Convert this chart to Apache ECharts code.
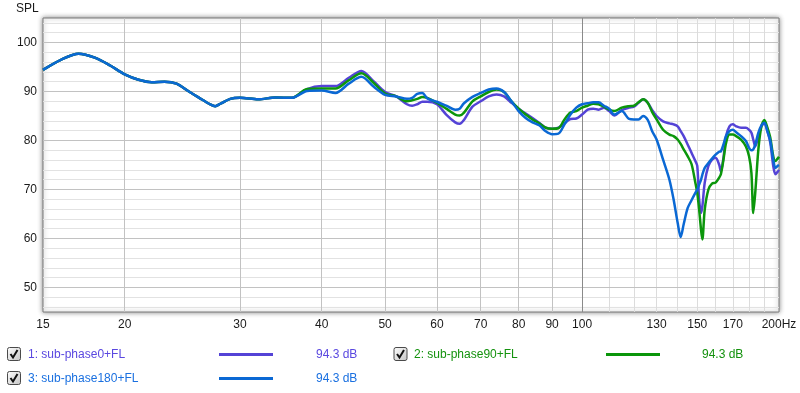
<!DOCTYPE html>
<html><head><meta charset="utf-8">
<script src="https://cdn.jsdelivr.net/npm/echarts@6/dist/echarts.min.js"></script>
<style>html,body{margin:0;padding:0;background:#fff}#c{width:800px;height:393px}</style>
</head><body><div id="c"></div>
<script>
// ---- data ----
const freq = [15,16,17,18,19,20,21,22,23,24,25,26,27,27.5,28,29,30,32,34,36,
  38,40,42,44,46,48,50,52,54,55,56,57,58,60,62,64,65,66,68,70,
  72,74,76,78,80,82,84,86,88,90,92,94,96,98,100,102,104,106,108,110,
  112,115,118,120,122,124,126,128,130,133,136,138,140,141.5,143,145,147,149,150,151,
  152,152.7,154,156,158,160,162,163,164.5,166,168,170,172,175,178,180,181.5,182.7,184,186,
  188,190,192,194,196,197.5,199,200];
const splCommon = [94.4,96.5,97.7,96.9,95.3,93.5,92.4,91.9,92.0,91.6,90.1,88.7,87.4,87.0,87.5,88.5,88.7,88.4,88.8,88.7];
const splPhase0 = splCommon.concat([90.5,91.1,91.1,92.8,94.2,92.1,89.9,89.0,87.4,87.1, 87.4,87.9,87.9,87.4,85.3,83.7,83.4,84.2,86.9,88.0,
  89.0,89.4,89.0,87.7,86.5,85.5,84.6,83.6,82.6,82.4, 82.6,83.5,84.4,84.5,85.3,86.3,86.5,86.3,86.7,86.0,
  85.1,86.2,86.7,86.9,87.7,88.4,87.7,86.2,85.0,83.9, 83.5,83.3,82.9,81.9,80.9,79.2,77.5,75.8,74.8,68.0,
  65.2,66.5,71.4,74.8,76.1,76.5,75.1,73.7,76.5,80.9, 82.9,83.3,82.9,82.6,82.6,82.2,81.6,80.2,78.8,80.9,
  82.9,83.5,81.9,79.5,74.8,73.1,73.6,74.0]);
const splPhase90 = splCommon.concat([90.5,90.6,90.6,92.3,93.7,91.8,89.6,89.0,88.0,88.2, 88.5,88.9,88.7,87.7,86.5,85.3,85.1,85.7,88.0,89.0,
  89.9,90.4,89.9,88.0,86.5,85.3,84.3,83.5,82.6,82.4, 82.5,84.3,85.7,86.0,86.7,87.1,87.5,87.4,86.9,86.3,
  86.0,86.7,87.0,87.1,87.8,88.4,87.7,85.8,84.3,82.2, 81.2,80.9,80.2,79.3,78.2,76.8,75.2,71.4,69.3,65.9,
  61.8,59.8,65.9,70.0,71.2,71.4,72.4,73.1,76.1,79.5, 81.2,81.2,80.9,80.2,78.8,76.8,73.4,65.2,69.5,78.2,
  82.9,84.2,82.6,80.5,76.8,75.8,76.3,76.7]);
const splPhase180 = splCommon.concat([90.1,90.2,89.7,91.6,93.0,91.0,89.3,89.0,88.5,88.7, 89.5,89.7,88.6,87.9,87.1,86.3,86.5,87.6,88.9,89.7,
  90.4,90.6,89.9,88.0,86.0,84.6,83.7,83.1,81.9,81.3, 81.4,83.3,85.3,86.7,87.4,87.6,87.8,87.8,87.1,86.5,
  85.3,86.0,84.4,84.3,84.3,85.0,84.2,81.9,80.2,76.1, 72.0,68.0,63.2,60.3,62.9,66.2,67.8,69.3,70.0,71.0,
  72.0,73.0,74.4,75.4,76.3,77.1,77.7,77.8,79.2,80.9, 81.9,82.2,81.7,80.9,79.9,78.5,78.0,78.2,79.2,81.6,
  83.1,83.6,81.9,79.9,76.1,74.4,74.8,75.0]);
const xTickLabels = [15,20,30,40,50,60,70,80,90,100,130,150,170,200];
const yTickLabels = [50,60,70,80,90,100];
const xGridMajor = [20,30,40,50,60,70,80,90];
const xGridDecade = [100];
const xGridMinor = [110,120,130,140,150,160,170,180,190];
const yGridMajor = [50,60,70,80,90,100];
const yGridMinor = [46,48,52,54,56,58,62,64,66,68,72,74,76,78,82,84,86,88,92,94,96,98,102,104];
const seriesNames = ['1: sub-phase0+FL','2: sub-phase90+FL','3: sub-phase180+FL'];
const seriesLevels = ['94.3 dB','94.3 dB','94.3 dB'];

// ---- styles ----
const FONT = '"Liberation Sans", Arial, sans-serif';
const lineColors = ['#5443d6','#0b960b','#0a68d4'];
const textColors = ['#5a48e0','#14920e','#1a70e0'];

const pairs = arr => freq.map((f,i)=>[f, arr[i]]);
const vLines = (vals,color)=>vals.map(v=>({xAxis:v, lineStyle:{color, width:1, type:'solid'}}));
const hLines = (vals,color)=>vals.map(v=>({yAxis:v, lineStyle:{color, width:1, type:'solid'}}));

const gridSeries = {
  type:'line', data:[], z:1, silent:true,
  markLine:{silent:true, z:1, symbol:['none','none'], label:{show:false}, animation:false,
    data:[].concat(hLines(yGridMinor,'#e2e2e2'), vLines(xGridMinor,'#dcdcdc'),
      hLines(yGridMajor,'#c2c2c2'), vLines(xGridMajor,'#c2c2c2'), vLines(xGridDecade,'#8a8a8a'))}
};
const curve = (name, arr, idx) => ({
  name, type:'line', data:pairs(arr), z:10+idx, showSymbol:false, symbol:'none',
  smooth:0.3, lineStyle:{color:lineColors[idx], width:2.5}, itemStyle:{color:lineColors[idx]}
});

// ---- legend graphics ----
function checkbox(x,y){
  return [
    {type:'rect', shape:{x:x,y:y,width:13,height:13,r:2},
      style:{fill:new echarts.graphic.LinearGradient(0,0,1,1,[{offset:0,color:'#ffffff'},{offset:1,color:'#c4c4c4'}]), stroke:'#4a4a4a', lineWidth:1}},
    {type:'polyline', shape:{points:[[x+3,y+6.5],[x+5.5,y+10],[x+10,y+2.5]]}, style:{stroke:'#111', lineWidth:2, fill:null}}
  ];
}
function legendEntry(i, cx, tx, lx1, lx2, vx, y){
  return checkbox(cx, y-7).concat([
    {type:'text', x:tx, y:y, style:{text:seriesNames[i], fill:textColors[i], font:'12px '+FONT, verticalAlign:'middle'}},
    {type:'line', shape:{x1:lx1,y1:y,x2:lx2,y2:y}, style:{stroke:lineColors[i], lineWidth:3}},
    {type:'text', x:vx, y:y, style:{text:seriesLevels[i], fill:textColors[i], font:'12px '+FONT, verticalAlign:'middle'}}
  ]);
}
const graphics = [{type:'text', x:16, y:9, style:{text:'SPL', fill:'#1a1a1a', font:'12px '+FONT, verticalAlign:'middle'}}]
  .concat(legendEntry(0, 7.5, 28, 219, 273, 316, 354.5))
  .concat(legendEntry(1, 394, 414, 606, 660, 702, 354.5))
  .concat(legendEntry(2, 7.5, 28, 219, 273, 316, 378.5));

const chart = echarts.init(document.getElementById('c'), null, {renderer:'canvas', width:800, height:393});
chart.setOption({
  animation:false,
  backgroundColor:'#ffffff',
  grid:{left:43, right:21, top:18, bottom:81, show:true, backgroundColor:'#ffffff',
    borderColor:'#7a7a7a', borderWidth:1, shadowBlur:5, shadowColor:'rgba(0,0,0,0.45)'},
  xAxis:{type:'log', logBase:10, min:15, max:200,
    axisLine:{show:false}, axisTick:{show:false}, splitLine:{show:false}, minorSplitLine:{show:false},
    axisLabel:{customValues:xTickLabels, formatter:v=> (Math.round(v)===200?'200Hz':String(Math.round(v))),
      color:'#1a1a1a', fontSize:12, fontFamily:FONT, margin:7, showMinLabel:true, showMaxLabel:true, hideOverlap:false}},
  yAxis:{type:'value', min:45, max:105,
    axisLine:{show:false}, axisTick:{show:false}, splitLine:{show:false},
    axisLabel:{customValues:yTickLabels, color:'#1a1a1a', fontSize:12, fontFamily:FONT, margin:6}},
  series:[gridSeries, curve(seriesNames[0], splPhase0, 0), curve(seriesNames[1], splPhase90, 1), curve(seriesNames[2], splPhase180, 2)],
  graphic:graphics
});
</script></body></html>
